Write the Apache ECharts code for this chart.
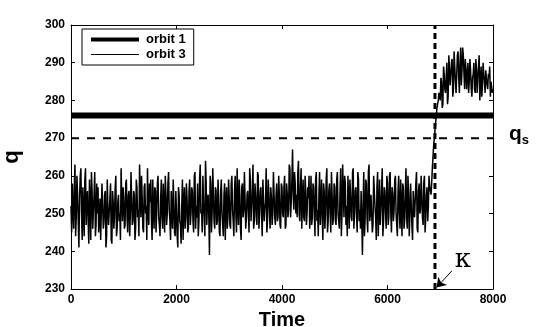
<!DOCTYPE html>
<html>
<head>
<meta charset="utf-8">
<script src="https://cdn.jsdelivr.net/npm/echarts@6/dist/echarts.min.js"></script>
<style type="text/css">
  html,body{margin:0;padding:0;background:#fff;}
  #main{width:545px;height:327px;}
</style>
</head>
<body>
<div id="main"></div>
<script>
// orbit 3 sampled every 25 time units, from t = 0 to t = 8000
var orbit3Step = 25;
var orbit3 = [
  252,258,246,263,249,255,241,260,250,257,244,262,253,248,259,243,256,251,261,247,
  250,245,254,243,252,248,256,244,251,247,258,242,253,249,260,246,255,250,262,248,
  254,247,259,245,256,250,261,248,255,246,257,251,263,249,254,245,258,252,262,247,
  253,248,259,246,256,251,260,247,254,249,258,245,255,250,261,248,256,246,253,244,
  250,241,255,247,252,243,257,249,254,246,259,250,256,245,261,252,258,248,263,251,
  260,249,264,247,255,239,258,250,262,246,256,248,253,244,259,250,255,243,257,249,
  254,246,260,248,256,250,262,247,255,243,258,251,261,249,256,245,259,252,263,248,
  255,247,260,250,257,244,259,251,262,248,256,246,254,250,261,247,258,249,255,246,
  257,249,260,247,255,251,262,253,267,251,258,255,261,250,257,246,259,248,256,250,
  254,246,260,249,257,244,261,251,255,247,259,243,256,250,262,248,258,245,255,249,
  257,247,261,250,256,244,263,249,258,252,260,246,255,248,262,250,257,245,259,251,
  256,239,261,248,258,245,263,250,255,247,260,249,257,244,259,251,262,248,256,246,
  258,249,261,245,255,251,260,247,256,250,259,244,257,248,262,246,255,250,258,243,
  256,249,261,245,258,251,255,247,260,249,257,252,257,255,262,268,272,276,279,282,
  280,285,279,287,282,290,281,288,284,291,283,289,282,292,286,290,284,294,287,291,
  283,290,285,288,281,287,283,291,282,286,280,289,284,287,282,288,283,286,281,285,
  283
];
// orbit 3 in between, at t = 12.5, 37.5, ... 7987.5
var orbit3Mid = [
  245,251,257,244,260,248,254,262,243,250,259,247,256,242,252,261,246,255,244,258,
  257,249,243,258,246,255,241,259,247,254,243,256,246,257,244,253,248,243,254,257,
  246,258,249,255,244,261,247,256,243,259,249,244,255,260,246,257,250,243,251,258,
  259,243,251,257,245,258,249,244,259,246,252,260,247,258,251,243,250,259,245,256,
  244,257,248,242,259,253,246,258,245,256,247,257,248,260,246,249,244,259,250,245,
  253,244,258,254,249,260,245,262,248,257,247,259,245,256,250,244,258,253,246,259,
  247,258,251,244,260,245,252,259,246,257,249,261,246,255,250,262,248,256,246,258,
  249,261,246,256,250,259,248,253,245,259,250,257,247,261,249,255,248,260,247,258,
  250,257,246,258,249,263,249,259,255,261,250,249,264,248,262,254,249,260,247,257,
  260,251,247,258,250,259,248,244,261,252,249,258,246,259,245,256,250,261,247,258,
  248,259,250,246,262,250,255,260,247,244,253,259,249,261,246,256,250,261,248,246,
  248,252,244,259,249,261,248,255,245,260,252,243,261,251,247,256,244,257,250,260,
  247,260,250,257,248,259,250,244,260,246,251,258,246,255,249,260,244,258,247,256,
  249,258,246,256,250,260,249,258,245,255,248,260,256,258,265,270,274,278,280,281,
  286,278,289,283,286,279,292,284,290,281,293,285,287,293,282,294,288,292,283,288,
  287,282,291,283,286,290,282,288,286,292,284,281,290,285,288,284,287,289,285,282
];
var orbit1Level = 276;
var qsLevel = 270;
var kappaTime = 6900;

var orbit3Data = [];
orbit3.forEach(function(v, i){
  orbit3Data.push([i * orbit3Step, v]);
  if (i < orbit3Mid.length) orbit3Data.push([i * orbit3Step + orbit3Step / 2, orbit3Mid[i]]);
});

var chart = echarts.init(document.getElementById('main'));
var font = 'Liberation Sans, Arial, sans-serif';

var axisBase = {
  type: 'value',
  axisLine: {show: true, onZero: false, lineStyle: {color: '#000', width: 1}},
  axisTick: {show: true, inside: true, length: 4, lineStyle: {color: '#000'}},
  splitLine: {show: false}
};

chart.setOption({
  animation: false,
  grid: {left: 71, right: 52, top: 25, bottom: 38, outerBoundsMode: 'none', containLabel: false},
  legend: {
    left: 82, top: 29,
    orient: 'vertical',
    backgroundColor: '#fff',
    borderColor: '#000',
    borderWidth: 1,
    padding: [4, 8, 4, 9],
    itemGap: 2,
    itemWidth: 48,
    itemHeight: 12,
    textStyle: {fontFamily: font, fontWeight: 'bold', fontSize: 13, color: '#000', padding: [0, 0, 0, 2]},
    data: [
      {name: 'orbit 1', icon: 'path://M0,0 L48,0 L48,4 L0,4 Z', itemStyle: {color: '#000'}},
      {name: 'orbit 3', icon: 'path://M0,0 L48,0 L48,1 L0,1 Z', itemStyle: {color: '#000'}}
    ]
  },
  xAxis: [
    Object.assign({}, axisBase, {
      min: 0, max: 8000, interval: 2000, position: 'bottom',
      name: 'Time', nameLocation: 'middle', nameGap: 20,
      nameTextStyle: {fontFamily: font, fontWeight: 'bold', fontSize: 20, color: '#000'},
      axisLabel: {fontFamily: font, fontWeight: 'bold', fontSize: 12, color: '#000', margin: 5,
        formatter: function(v){ return String(v); }}
    }),
    Object.assign({}, axisBase, {
      min: 0, max: 8000, interval: 2000, position: 'top', axisLabel: {show: false}
    })
  ],
  yAxis: [
    Object.assign({}, axisBase, {
      min: 230, max: 300, interval: 10, position: 'left',
      name: 'q', nameLocation: 'middle', nameGap: 48,
      nameTextStyle: {fontFamily: font, fontWeight: 'bold', fontSize: 22, color: '#000'},
      axisLabel: {fontFamily: font, fontWeight: 'bold', fontSize: 12, color: '#000', margin: 6}
    }),
    Object.assign({}, axisBase, {
      min: 230, max: 300, interval: 10, position: 'right', axisLabel: {show: false}
    })
  ],
  series: [
    {
      name: 'orbit 1', type: 'line', symbol: 'none', silent: true,
      lineStyle: {color: '#000', width: 6},
      data: [[0, orbit1Level], [8000, orbit1Level]],
      z: 2
    },
    {
      name: 'orbit 3', type: 'line', symbol: 'none', silent: true,
      lineStyle: {color: '#000', width: 1.5},
      data: orbit3Data,
      z: 3
    },
    {
      name: 'qs', type: 'line', symbol: 'none', silent: true,
      lineStyle: {color: '#000', width: 2, type: [8, 8]},
      data: [[0, qsLevel], [8000, qsLevel]],
      endLabel: {
        show: true, offset: [8, -4],
        formatter: '{q|q}{s|s}',
        rich: {
          q: {fontFamily: font, fontWeight: 'bold', fontSize: 21, color: '#000'},
          s: {fontFamily: font, fontWeight: 'bold', fontSize: 13, color: '#000', padding: [12, 0, 0, 0]}
        }
      },
      z: 4
    },
    {
      name: 'kappa', type: 'line', symbol: 'none', silent: true,
      lineStyle: {color: '#000', width: 3, type: [6, 4]},
      data: [[kappaTime, 230], [kappaTime, 300]],
      markLine: {
        silent: true, symbol: ['none', 'arrow'], symbolSize: 9,
        lineStyle: {color: '#000', width: 1, type: 'solid'},
        label: {show: false},
        data: [[{coord: [7220, 234.8]}, {coord: [6930, 230.4]}]]
      },
      markPoint: {
        silent: true, symbol: 'rect', symbolSize: 1,
        itemStyle: {color: 'rgba(0,0,0,0)'},
        label: {show: true, formatter: 'κ', fontFamily: 'DejaVu Serif, serif', fontSize: 26, color: '#000'},
        data: [{coord: [7430, 237.6]}]
      },
      z: 5
    }
  ]
});
</script>
</body>
</html>
